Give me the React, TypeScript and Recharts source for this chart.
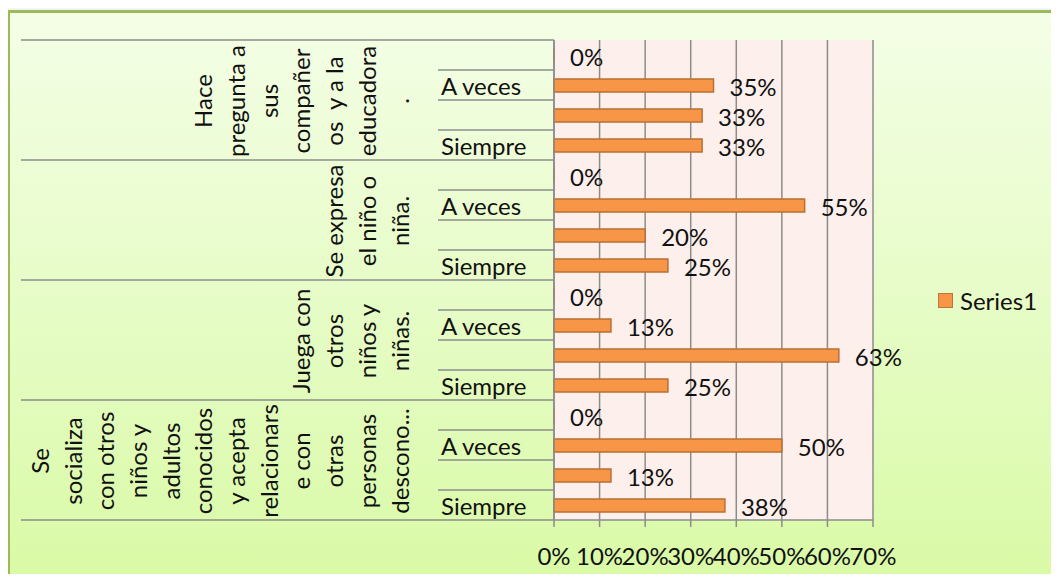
import { Bar, BarChart, CartesianGrid, LabelList, XAxis, YAxis } from 'recharts'

// Category labels of the inner level (bottom → top inside each group).
// Excel skipped every other label, so two of them show no text.
const levelLabels = ['Siempre', '', 'A veces', '']

// Outer level labels, as wrapped in the original (one entry per line).
const groupLines: string[][] = [
  [
    'Se',
    'socializa',
    'con otros',
    'niños y',
    'adultos',
    'conocidos',
    'y acepta',
    'relacionars',
    'e con',
    'otras',
    'personas',
    'descono...',
  ],
  ['Juega con', 'otros', 'niños y', 'niñas.'],
  ['Se expresa', 'el niño o', 'niña.'],
  ['Hace', 'pregunta a', 'sus', 'compañer', 'os  y a la', 'educadora', '.'],
]

// Values in %, bottom → top (Siempre, -, A veces, -)
const socializa = [37.5, 12.5, 50, 0]
const juega = [25, 62.5, 12.5, 0]
const expresa = [25, 20, 55, 0]
const pregunta = [32.5, 32.5, 35, 0]

const xTicks = [0, 10, 20, 30, 40, 50, 60, 70]
const seriesName = 'Series1'

const groupValues = [socializa, juega, expresa, pregunta]

const rows = groupValues.flatMap((vals, g) =>
  vals.map((value, l) => ({ id: `g${g}-l${l}`, group: g, level: l, value })),
)

const W = 1059
const H = 582
const PLOT_TOP = 40
const X_AXIS_H = 62
const BAND = (H - PLOT_TOP - X_AXIS_H) / rows.length
const FONT = 'Lato, "Open Sans", sans-serif'
const FS = 24
const GRAY = '#8c8c8c'
const LINE_H = 32.7
const GROUP_TEXT_RIGHT = 399
const AXIS_X = 554

function CategoryTick(props: any) {
  const { y, payload } = props
  const row = rows.find((r) => r.id === payload.value)
  if (!row) return null
  const label = levelLabels[row.level]
  const bottomY = y + BAND / 2
  const isGroupStart = row.level === 0
  const isTop = row.level === levelLabels.length - 1
  const lines = groupLines[row.group]
  const groupCy = y - BAND * 1.5 + 1
  return (
    <g>
      <line
        x1={isGroupStart ? 21 : 438}
        x2={AXIS_X}
        y1={bottomY}
        y2={bottomY}
        stroke={GRAY}
        strokeWidth={1.5}
      />
      {isTop && row.group === groupLines.length - 1 ? (
        <line x1={21} x2={AXIS_X} y1={y - BAND / 2} y2={y - BAND / 2} stroke={GRAY} strokeWidth={1.5} />
      ) : null}
      {label ? (
        <text x={441} y={y} dominantBaseline="central" fontSize={FS} fontFamily={FONT} fill="#111">
          {label}
        </text>
      ) : null}
      {isGroupStart
        ? lines.map((ln, k) => {
            const cx = GROUP_TEXT_RIGHT - (lines.length - 1 - k) * LINE_H
            return (
              <text
                key={k}
                x={0}
                y={0}
                transform={`translate(${cx},${groupCy}) rotate(-90)`}
                textAnchor="middle"
                dominantBaseline="central"
                fontSize={FS}
                fontFamily={FONT}
                fill="#111"
                style={{ whiteSpace: 'pre' }}
              >
                {ln}
              </text>
            )
          })
        : null}
    </g>
  )
}

function ValueLabel(props: any) {
  const vb = props.viewBox ?? props
  const x = vb.x ?? props.x
  const y = vb.y ?? props.y
  const width = vb.width ?? props.width ?? 0
  const height = vb.height ?? props.height ?? 0
  return (
    <text
      x={x + width + 16}
      y={y + height / 2 + 1}
      dominantBaseline="central"
      fontSize={FS}
      fontFamily={FONT}
      fill="#111"
    >
      {Math.round(props.value)}%
    </text>
  )
}

export default function App() {
  return (
    <div style={{ position: 'relative', width: W, height: H, margin: -8, overflow: 'hidden', fontFamily: FONT }}>
      <div
        style={{
          position: 'absolute',
          left: 7,
          top: 10,
          width: W + 10,
          height: H + 10,
          borderLeft: '3px solid #9bbb59',
          borderTop: '3px solid #9bbb59',
          background: 'linear-gradient(to bottom, #f4fee6 0%, #e6fcc6 50%, #d8faa3 100%)',
          boxShadow: '-3px 0 4px rgba(0,0,0,0.15)',
        }}
      />
      <div style={{ position: 'absolute', left: 0, top: 0 }}>
        <BarChart
          width={W}
          height={H}
          data={rows}
          layout="vertical"
          margin={{ top: PLOT_TOP, right: W - 873, bottom: 0, left: 0 }}
          barSize={13}
        >
          <CartesianGrid fill="#fdefeb" horizontal={false} stroke={GRAY} strokeWidth={1.5} />
          <XAxis
            type="number"
            domain={[0, 70]}
            ticks={xTicks}
            tickFormatter={(v) => `${v}%`}
            height={X_AXIS_H}
            tickSize={7}
            tickMargin={21}
            stroke={GRAY}
            strokeWidth={1.5}
            tick={{ fontSize: FS, fontFamily: FONT, fill: '#111' }}
            interval={0}
          />
          <YAxis
            type="category"
            dataKey="id"
            reversed
            width={AXIS_X}
            interval={0}
            tickLine={false}
            stroke={GRAY}
            strokeWidth={1.5}
            tick={<CategoryTick />}
          />
          <Bar
            dataKey="value"
            name={seriesName}
            fill="#f79646"
            stroke="#bb6f30"
            strokeWidth={1.5}
            minPointSize={0.01}
            isAnimationActive={false}
          >
            <LabelList dataKey="value" content={<ValueLabel />} />
          </Bar>
        </BarChart>
      </div>
      <div
        style={{
          position: 'absolute',
          left: 938,
          top: 286,
          display: 'flex',
          alignItems: 'center',
          fontSize: FS,
          color: '#111',
        }}
      >
        <span
          style={{
            display: 'inline-block',
            width: 13,
            height: 13,
            background: '#f79646',
            border: '1.5px solid #c0743a',
            marginRight: 7,
          }}
        />
        {seriesName}
      </div>
    </div>
  )
}
